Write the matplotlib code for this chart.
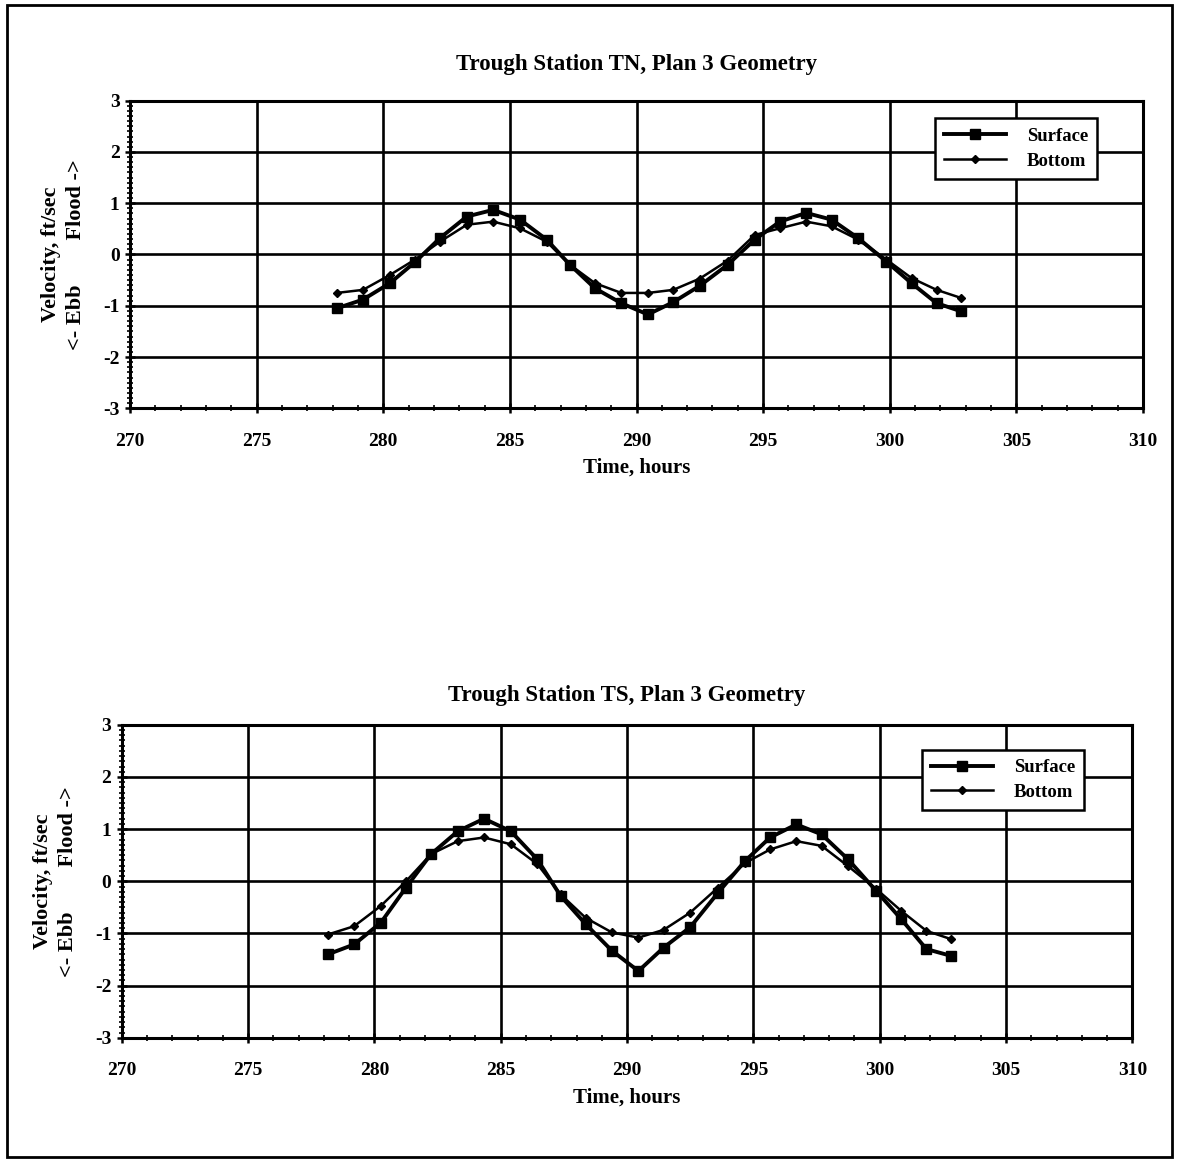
import matplotlib.pyplot as plt
from matplotlib.patches import Rectangle
from matplotlib.ticker import MultipleLocator

# time, hours (same for both stations)
hours = [278.16, 279.2, 280.26, 281.25, 282.24, 283.3, 284.34, 285.4, 286.45,
         287.37, 288.36, 289.4, 290.45, 291.45, 292.5, 293.6, 294.67, 295.66,
         296.7, 297.7, 298.75, 299.87, 300.86, 301.85, 302.83]

# station TN
tn_surface = [-1.05, -0.88, -0.56, -0.15, 0.32, 0.74, 0.87, 0.68, 0.29, -0.2,
              -0.66, -0.95, -1.17, -0.93, -0.61, -0.2, 0.29, 0.64, 0.81, 0.68,
              0.32, -0.14, -0.56, -0.95, -1.11]
tn_bottom = [-0.75, -0.69, -0.4, -0.1, 0.25, 0.58, 0.64, 0.51, 0.25, -0.2,
             -0.56, -0.75, -0.75, -0.69, -0.47, -0.12, 0.38, 0.51, 0.64, 0.55,
             0.29, -0.1, -0.46, -0.69, -0.85]

# station TS
ts_surface = [-1.4, -1.21, -0.79, -0.12, 0.52, 0.96, 1.2, 0.96, 0.42, -0.28,
              -0.82, -1.33, -1.72, -1.27, -0.88, -0.22, 0.39, 0.84, 1.09, 0.9,
              0.42, -0.19, -0.73, -1.3, -1.43]
ts_bottom = [-1.02, -0.86, -0.47, 0.0, 0.52, 0.77, 0.84, 0.71, 0.33, -0.25,
             -0.7, -0.98, -1.08, -0.93, -0.6, -0.12, 0.35, 0.61, 0.77, 0.68,
             0.29, -0.15, -0.57, -0.95, -1.11]

titles = ["Trough Station TN, Plan 3 Geometry", "Trough Station TS, Plan 3 Geometry"]

plt.rcParams["font.family"] = ["Liberation Serif", "DejaVu Serif"]
plt.rcParams["font.weight"] = "bold"
plt.rcParams["axes.unicode_minus"] = False

fig = plt.figure(figsize=(11.82, 11.7), dpi=100)

# outer frame round the whole page
fig.patches.append(Rectangle((7 / 1182, 1 - 1157 / 1170), 1165 / 1182, 1152 / 1170,
                             transform=fig.transFigure, fill=False,
                             edgecolor="black", linewidth=2))

ax1 = fig.add_axes([0.110, 0.651, 0.857, 0.263])
ax2 = fig.add_axes([0.103, 0.113, 0.855, 0.2675])

panels = [(ax1, titles[0], tn_surface, tn_bottom, 22, (0.955, 0.942)),
          (ax2, titles[1], ts_surface, ts_bottom, 17, (0.9525, 0.92))]

for ax, title, surf, bott, tpad, anchor in panels:
    ax.plot(hours, surf, color="black", linewidth=2.8, marker="s",
            markersize=6.5, label="Surface")
    ax.plot(hours, bott, color="black", linewidth=1.8, marker="D",
            markersize=4, label="Bottom")
    ax.set_xlim(270, 310)
    ax.set_ylim(-3, 3)
    ax.xaxis.set_major_locator(MultipleLocator(5))
    ax.xaxis.set_minor_locator(MultipleLocator(1))
    ax.yaxis.set_major_locator(MultipleLocator(1))
    ax.yaxis.set_minor_locator(MultipleLocator(0.1))
    ax.grid(True, which="major", color="black", linewidth=1.9)
    ax.tick_params(which="major", direction="inout", length=7, width=1.8,
                   labelsize=14)
    ax.tick_params(which="minor", direction="inout", length=4, width=1.2)
    ax.tick_params(axis="x", pad=14)
    ax.tick_params(axis="y", pad=4)
    for s in ax.spines.values():
        s.set_linewidth(2.2)
    ax.set_title(title, fontsize=16.5, fontweight="bold", pad=tpad)
    ax.set_xlabel("Time, hours", fontsize=15, fontweight="bold", labelpad=6)
    ax.set_ylabel("Velocity, ft/sec\n<- Ebb        Flood ->", fontsize=16,
                  fontweight="bold", labelpad=12, linespacing=1.35)
    leg = ax.legend(loc="upper right", bbox_to_anchor=anchor, borderaxespad=0,
                    fancybox=False, edgecolor="black", framealpha=1,
                    fontsize=13.5, handlelength=3.3, borderpad=0.5,
                    labelspacing=0.4, handletextpad=1.1)
    leg.get_frame().set_linewidth(1.8)
    for t in leg.get_texts():
        t.set_fontweight("bold")

fig.savefig("out.png", dpi=100)
